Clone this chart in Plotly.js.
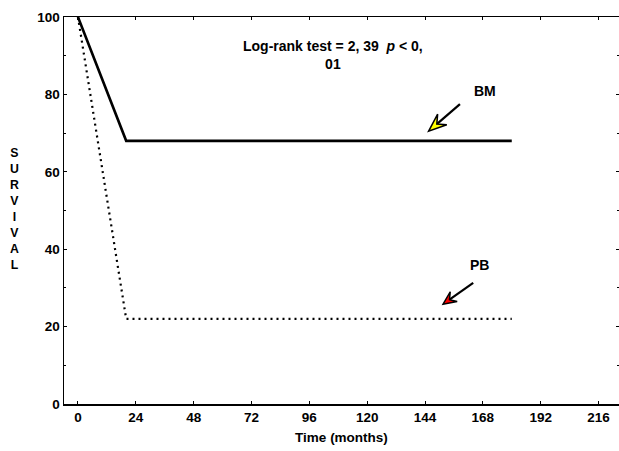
<!DOCTYPE html>
<html><head><meta charset="utf-8">
<script src="https://cdn.plot.ly/plotly-3.0.1.min.js"></script>
<style>html,body{margin:0;padding:0;background:#fff}#chart{width:619px;height:451px}</style>
</head><body><div id="chart"></div>
<script>
// Data
const timeMonths = [0, 20, 180];
const survivalBM = [100, 68, 68];
const survivalPB = [100, 22, 22];
const xTicks = [0, 24, 48, 72, 96, 120, 144, 168, 192, 216];
const yTicks = [0, 20, 40, 60, 80, 100];
const statText = 'Log-rank test = 2, 39  <i>p</i> < 0,<br>01';
// annotation arrows: [tipX, tipY, tailX, tailY] in data units
const arrowBM = [145.5, 70.5, 158.5, 77.5];
const arrowPB = [151.5, 25.8, 164, 31.3];

const W = 619, H = 451, mL = 64, mR = 0, mT = 17, mB = 47;
const xr = [-5.8, 224.5], yr = [0, 100];
const pw = W - mL - mR, ph = H - mT - mB;
const toPx = (x, y) => [(x - xr[0]) / (xr[1] - xr[0]) * pw, (y - yr[0]) / (yr[1] - yr[0]) * ph];
const toData = (px, py) => [xr[0] + px / pw * (xr[1] - xr[0]), yr[0] + py / ph * (yr[1] - yr[0])];

function arrowShapes(a, fill, L, Wd) {
  const [tx, ty] = toPx(a[0], a[1]);
  const [sx, sy] = toPx(a[2], a[3]);
  let dx = sx - tx, dy = sy - ty; const n = Math.hypot(dx, dy); dx /= n; dy /= n;
  const px = -dy, py = dx;
  const b1 = [tx + L * dx + Wd * px, ty + L * dy + Wd * py];
  const b2 = [tx + L * dx - Wd * px, ty + L * dy - Wd * py];
  const nt = [tx + L * 0.6 * dx, ty + L * 0.6 * dy];
  const pts = [[tx, ty], b1, nt, b2].map(p => toData(p[0], p[1]));
  const path = 'M ' + pts.map(p => p[0] + ',' + p[1]).join(' L ') + ' Z';
  const ns = toData(nt[0], nt[1]);
  return [
    {type: 'line', xref: 'x', yref: 'y', x0: ns[0], y0: ns[1], x1: a[2], y1: a[3], line: {color: '#000', width: 2.2}},
    {type: 'path', xref: 'x', yref: 'y', path: path, fillcolor: fill, line: {color: '#000', width: 1.5}}
  ];
}

const fam = 'Arial, "Liberation Sans", sans-serif';
const font = {family: fam, color: '#000', size: 14, weight: 'bold'};

const traces = [
  {x: timeMonths, y: survivalBM, mode: 'lines', line: {color: '#000', width: 2.6}, hoverinfo: 'skip'},
  {x: timeMonths, y: survivalPB, mode: 'lines', line: {color: '#000', width: 2.2, dash: '2px,4px'}, hoverinfo: 'skip'}
];

const layout = {
  width: W, height: H, showlegend: false,
  margin: {l: mL, r: mR, t: mT, b: mB, pad: 0},
  paper_bgcolor: '#fff', plot_bgcolor: '#fff',
  font: font,
  xaxis: {range: xr, tickvals: xTicks, ticktext: xTicks.map(String), showgrid: false, zeroline: false,
    showline: true, linecolor: '#000', linewidth: 1.5, mirror: 'ticks', ticks: 'inside', ticklen: 3, tickcolor: '#000',
    tickfont: {family: fam, size: 13.5, color: '#000', weight: 'bold'},
    title: {text: 'Time (months)', font: {family: fam, size: 13.5, color: '#000', weight: 'bold'}, standoff: 9}},
  yaxis: {range: yr, tickvals: yTicks, showgrid: false, zeroline: false,
    showline: true, linecolor: '#000', linewidth: 1.5, mirror: 'ticks', ticks: 'inside', ticklen: 3, tickcolor: '#000',
    minor: {dtick: 10, ticks: 'inside', ticklen: 2, tickcolor: '#000'},
    tickfont: {family: fam, size: 13.5, color: '#000', weight: 'bold'}},
  annotations: [
    {xref: 'x', yref: 'y', x: 106, y: 90.3, text: statText, showarrow: false, font: {family: fam, size: 14, color: '#000', weight: 'bold'}},
    {xref: 'x', yref: 'y', x: 169, y: 81, text: 'BM', showarrow: false, font: font},
    {xref: 'x', yref: 'y', x: 166.5, y: 36, text: 'PB', showarrow: false, font: font},
    {xref: 'paper', yref: 'paper', x: -0.09, y: 0.505, xanchor: 'center', yanchor: 'middle', showarrow: false,
      text: 'S<br>U<br>R<br>V<br>I<br>V<br>A<br>L', font: {family: fam, size: 12.3, color: '#000', weight: 'bold'}}
  ],
  shapes: [].concat(arrowShapes(arrowBM, '#ffff00', 18, 7), arrowShapes(arrowPB, '#ff0000', 13, 6))
};

Plotly.newPlot('chart', traces, layout, {staticPlot: true, displayModeBar: false});
</script></body></html>
